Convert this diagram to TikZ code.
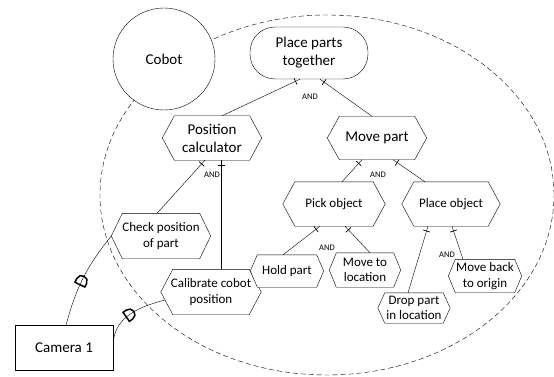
\documentclass[tikz,border=0pt]{standalone}
\usepackage{fontspec}
\setmainfont{Carlito}
\usetikzlibrary{calc,decorations.markings}
\pgfdeclarelayer{back}
\pgfdeclarelayer{shapes}
\pgfsetlayers{back,shapes,main}

% hexagonal outline around a named node; #2 = depth of the side points
\newcommand\hexoutline[2]{%
  \draw[fill=white] ($(#1.north west)+(#2,0)$) -- ($(#1.north east)+(-#2,0)$)
    -- (#1.east) -- ($(#1.south east)+(-#2,0)$) -- ($(#1.south west)+(#2,0)$)
    -- (#1.west) -- cycle;}

\begin{document}
\begin{tikzpicture}[x=1pt,y=1pt,line width=0.8pt,
  big/.style={font=\fontsize{15}{18}\selectfont,align=center,inner sep=0pt},
  small/.style={font=\fontsize{13}{15.5}\selectfont,align=center,inner sep=0pt},
  andlbl/.style={font=\fontsize{8.5}{10}\selectfont,inner sep=0pt},
  refine/.style={postaction={decorate},
    decoration={markings,mark=at position 5pt with {\draw[line width=0.7pt] (0,-3.5) -- (0,3.5);}}},
  agentlink/.style={postaction={decorate},
    decoration={markings,mark=at position 0.47 with {%
      \draw[line width=1.5pt] (-4.5,-5.5) -- (-4.5,5.5) -- (-0.5,5.5)
        arc[start angle=90,end angle=-90,radius=5.5] -- cycle;}}}]

\useasboundingbox (0,0) rectangle (554,-377);

% system boundary
\begin{pgfonlayer}{back}
  \draw[dash pattern=on 5pt off 3pt] (327,-195) ellipse[x radius=227,y radius=180];
\end{pgfonlayer}

% agent
\node[draw,fill=white,circle,minimum size=102pt,big] (cobot) at (164,-59) {Cobot};

% goals
\node[draw,fill=white,rounded corners=25pt,minimum width=118pt,minimum height=52pt,big]
  (ppt) at (309,-53) {Place parts\\together};
\node[big,minimum width=99pt,minimum height=44pt] (pc) at (212,-138) {Position\\calculator};
\node[big,minimum width=99pt,minimum height=43pt] (mp) at (377,-138) {Move part};
\node[small,minimum width=102pt,minimum height=44pt] (pick) at (334,-204) {Pick object};
\node[small,minimum width=98pt,minimum height=44pt] (place) at (451,-204) {Place object};
\node[small,minimum width=73pt,minimum height=32pt] (hold) at (287,-271) {Hold part};
\node[small,minimum width=71pt,minimum height=34pt] (mtl) at (365,-270) {Move to\\location};
\node[small,minimum width=73pt,minimum height=33pt] (mbo) at (485,-276) {Move back\\to origin};
\node[small,minimum width=72pt,minimum height=30pt] (drop) at (414,-308) {Drop part\\in location};
\node[small,minimum width=99pt,minimum height=45pt] (chk) at (161,-236) {Check position\\of part};
\node[small,minimum width=100pt,minimum height=45pt] (cal) at (211,-292) {Calibrate cobot\\position};

% sensor
\node[draw,fill=white,big,minimum width=98pt,minimum height=45pt] (cam) at (64,-348) {Camera 1};

\begin{pgfonlayer}{shapes}
  \hexoutline{pc}{12}
  \hexoutline{mp}{12}
  \hexoutline{pick}{12}
  \hexoutline{place}{12}
  \hexoutline{chk}{11}
  \hexoutline{cal}{12}
  \hexoutline{hold}{7}
  \hexoutline{mtl}{7}
  \hexoutline{mbo}{7}
  \hexoutline{drop}{7}
\end{pgfonlayer}

% AND refinements
\draw[refine] ($(ppt.south)+(-9,0)$) -- ($(pc.north)+(10,0)$);
\draw[refine] ($(ppt.south)+(11,0)$) -- ($(mp.north)+(-5,0)$);
\node[andlbl] (and1) at (310,-97) {AND};

\draw[refine] ($(pc.south)+(-7,0)$) -- ($(chk.north)+(-4,0)$);
\draw[refine] ($(pc.south)+(9,0)$) -- ($(cal.north)+(10,0)$);
\node[andlbl] (and2) at (212,-175) {AND};

\draw[refine] ($(mp.south)+(-15,0)$) -- ($(pick.north)+(8,0)$);
\draw[refine] ($(mp.south)+(16,0)$) -- ($(place.north)+(-26,0)$);
\node[andlbl] (and3) at (378,-175) {AND};

\draw[refine] ($(pick.south)+(-14,0)$) -- ($(hold.north)+(-4,0)$);
\draw[refine] ($(pick.south)+(11,0)$) -- ($(mtl.north)+(5,0)$);
\node[andlbl] (and4) at (327,-248) {AND};

\draw[refine] ($(place.south)+(-23,0)$) -- ($(drop.north)+(-6,0)$);
\draw[refine] ($(place.south)+(1,0)$) -- ($(mbo.north)+(-22,0)$);
\node[andlbl] (and5) at (447,-255) {AND};

% sensor links
\draw[agentlink] ($(cam.north)+(2,0)$) to[bend left=12] (chk.west);
\coordinate (calin) at ($(cal.west)!0.35!($(cal.south west)+(12,0)$)$);
\draw[agentlink] ($(cam.north east)+(0,-17)$) to[out=85,in=195] (calin);

\end{tikzpicture}
\end{document}
